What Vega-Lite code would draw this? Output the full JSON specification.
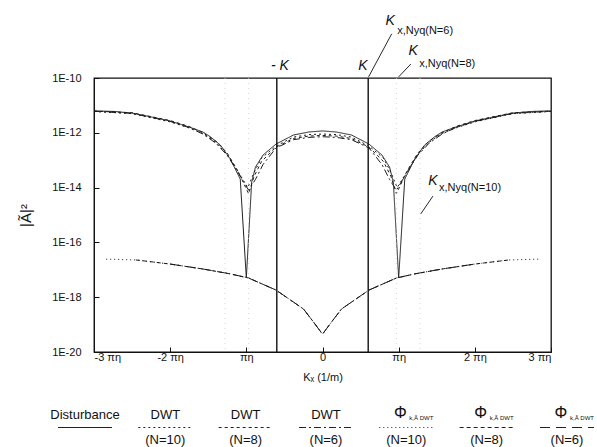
{
  "$schema": "https://vega.github.io/schema/vega-lite/v6.json",
  "padding": {"left": 17, "top": 13, "right": 0, "bottom": 0},
  "background": "white",
  "config": {"font": "Liberation Sans", "view": {"stroke": null}, "concat": {"spacing": 22}},
  "datasets": {
    "curves": [
      {"series": "Disturbance", "x": -3, "v": 6.31e-12},
      {"series": "Disturbance", "x": -2.75, "v": 6.03e-12},
      {"series": "Disturbance", "x": -2.5, "v": 5.25e-12},
      {"series": "Disturbance", "x": -2.25, "v": 3.80e-12},
      {"series": "Disturbance", "x": -2.0, "v": 2.69e-12},
      {"series": "Disturbance", "x": -1.75, "v": 1.62e-12},
      {"series": "Disturbance", "x": -1.57, "v": 1.07e-12},
      {"series": "Disturbance", "x": -1.47, "v": 7.08e-13},
      {"series": "Disturbance", "x": -1.34, "v": 3.55e-13},
      {"series": "Disturbance", "x": -1.21, "v": 1.10e-13},
      {"series": "Disturbance", "x": -1.08, "v": 2.04e-14},
      {"series": "Disturbance", "x": -1.0, "v": 5.01e-18},
      {"series": "Disturbance", "x": -0.93, "v": 1.58e-14},
      {"series": "Disturbance", "x": -0.88, "v": 5.62e-14},
      {"series": "Disturbance", "x": -0.78, "v": 1.55e-13},
      {"series": "Disturbance", "x": -0.61, "v": 3.89e-13},
      {"series": "Disturbance", "x": -0.38, "v": 8.32e-13},
      {"series": "Disturbance", "x": -0.18, "v": 1.07e-12},
      {"series": "Disturbance", "x": 0, "v": 1.17e-12},
      {"series": "Disturbance", "x": 0.18, "v": 1.07e-12},
      {"series": "Disturbance", "x": 0.38, "v": 8.32e-13},
      {"series": "Disturbance", "x": 0.61, "v": 3.89e-13},
      {"series": "Disturbance", "x": 0.78, "v": 1.55e-13},
      {"series": "Disturbance", "x": 0.88, "v": 5.62e-14},
      {"series": "Disturbance", "x": 0.93, "v": 1.58e-14},
      {"series": "Disturbance", "x": 1.0, "v": 5.01e-18},
      {"series": "Disturbance", "x": 1.08, "v": 2.04e-14},
      {"series": "Disturbance", "x": 1.21, "v": 1.10e-13},
      {"series": "Disturbance", "x": 1.34, "v": 3.55e-13},
      {"series": "Disturbance", "x": 1.47, "v": 7.08e-13},
      {"series": "Disturbance", "x": 1.57, "v": 1.07e-12},
      {"series": "Disturbance", "x": 1.75, "v": 1.62e-12},
      {"series": "Disturbance", "x": 2.0, "v": 2.69e-12},
      {"series": "Disturbance", "x": 2.25, "v": 3.80e-12},
      {"series": "Disturbance", "x": 2.5, "v": 5.25e-12},
      {"series": "Disturbance", "x": 2.75, "v": 6.03e-12},
      {"series": "Disturbance", "x": 3, "v": 6.31e-12},

      {"series": "DWT10", "x": -3, "v": 6.0e-12},
      {"series": "DWT10", "x": -2.5, "v": 5.0e-12},
      {"series": "DWT10", "x": -2.0, "v": 2.5e-12},
      {"series": "DWT10", "x": -1.75, "v": 1.5e-12},
      {"series": "DWT10", "x": -1.57, "v": 9.5e-13},
      {"series": "DWT10", "x": -1.4, "v": 4.5e-13},
      {"series": "DWT10", "x": -1.25, "v": 1.6e-13},
      {"series": "DWT10", "x": -1.1, "v": 3.5e-14},
      {"series": "DWT10", "x": -0.98, "v": 1.0e-14},
      {"series": "DWT10", "x": -0.9, "v": 3.5e-14},
      {"series": "DWT10", "x": -0.8, "v": 1.2e-13},
      {"series": "DWT10", "x": -0.61, "v": 3.3e-13},
      {"series": "DWT10", "x": -0.38, "v": 7.0e-13},
      {"series": "DWT10", "x": -0.18, "v": 8.6e-13},
      {"series": "DWT10", "x": 0, "v": 9.0e-13},
      {"series": "DWT10", "x": 0.18, "v": 8.6e-13},
      {"series": "DWT10", "x": 0.38, "v": 7.0e-13},
      {"series": "DWT10", "x": 0.61, "v": 3.3e-13},
      {"series": "DWT10", "x": 0.8, "v": 1.2e-13},
      {"series": "DWT10", "x": 0.9, "v": 3.5e-14},
      {"series": "DWT10", "x": 0.98, "v": 1.0e-14},
      {"series": "DWT10", "x": 1.1, "v": 3.5e-14},
      {"series": "DWT10", "x": 1.25, "v": 1.6e-13},
      {"series": "DWT10", "x": 1.4, "v": 4.5e-13},
      {"series": "DWT10", "x": 1.57, "v": 9.5e-13},
      {"series": "DWT10", "x": 1.75, "v": 1.5e-12},
      {"series": "DWT10", "x": 2.0, "v": 2.5e-12},
      {"series": "DWT10", "x": 2.5, "v": 5.0e-12},
      {"series": "DWT10", "x": 3, "v": 6.0e-12},

      {"series": "DWT8", "x": -3, "v": 6.2e-12},
      {"series": "DWT8", "x": -2.5, "v": 5.4e-12},
      {"series": "DWT8", "x": -2.0, "v": 2.8e-12},
      {"series": "DWT8", "x": -1.75, "v": 1.7e-12},
      {"series": "DWT8", "x": -1.57, "v": 1.0e-12},
      {"series": "DWT8", "x": -1.4, "v": 5.0e-13},
      {"series": "DWT8", "x": -1.25, "v": 1.8e-13},
      {"series": "DWT8", "x": -1.12, "v": 4.5e-14},
      {"series": "DWT8", "x": -0.97, "v": 6.0e-15},
      {"series": "DWT8", "x": -0.9, "v": 2.5e-14},
      {"series": "DWT8", "x": -0.8, "v": 9.0e-14},
      {"series": "DWT8", "x": -0.61, "v": 3.0e-13},
      {"series": "DWT8", "x": -0.38, "v": 6.2e-13},
      {"series": "DWT8", "x": -0.18, "v": 7.6e-13},
      {"series": "DWT8", "x": 0, "v": 8.0e-13},
      {"series": "DWT8", "x": 0.18, "v": 7.6e-13},
      {"series": "DWT8", "x": 0.38, "v": 6.2e-13},
      {"series": "DWT8", "x": 0.61, "v": 3.0e-13},
      {"series": "DWT8", "x": 0.8, "v": 9.0e-14},
      {"series": "DWT8", "x": 0.9, "v": 2.5e-14},
      {"series": "DWT8", "x": 0.97, "v": 6.0e-15},
      {"series": "DWT8", "x": 1.12, "v": 4.5e-14},
      {"series": "DWT8", "x": 1.25, "v": 1.8e-13},
      {"series": "DWT8", "x": 1.4, "v": 5.0e-13},
      {"series": "DWT8", "x": 1.57, "v": 1.0e-12},
      {"series": "DWT8", "x": 1.75, "v": 1.7e-12},
      {"series": "DWT8", "x": 2.0, "v": 2.8e-12},
      {"series": "DWT8", "x": 2.5, "v": 5.4e-12},
      {"series": "DWT8", "x": 3, "v": 6.2e-12},

      {"series": "DWT6", "x": -3, "v": 6.1e-12},
      {"series": "DWT6", "x": -2.5, "v": 5.1e-12},
      {"series": "DWT6", "x": -2.0, "v": 2.6e-12},
      {"series": "DWT6", "x": -1.75, "v": 1.55e-12},
      {"series": "DWT6", "x": -1.57, "v": 9.0e-13},
      {"series": "DWT6", "x": -1.4, "v": 4.2e-13},
      {"series": "DWT6", "x": -1.25, "v": 1.5e-13},
      {"series": "DWT6", "x": -1.12, "v": 4.0e-14},
      {"series": "DWT6", "x": -0.97, "v": 8.0e-15},
      {"series": "DWT6", "x": -0.88, "v": 2.0e-14},
      {"series": "DWT6", "x": -0.78, "v": 7.0e-14},
      {"series": "DWT6", "x": -0.61, "v": 2.8e-13},
      {"series": "DWT6", "x": -0.38, "v": 5.6e-13},
      {"series": "DWT6", "x": -0.18, "v": 6.8e-13},
      {"series": "DWT6", "x": 0, "v": 7.2e-13},
      {"series": "DWT6", "x": 0.18, "v": 6.8e-13},
      {"series": "DWT6", "x": 0.38, "v": 5.6e-13},
      {"series": "DWT6", "x": 0.61, "v": 2.8e-13},
      {"series": "DWT6", "x": 0.78, "v": 7.0e-14},
      {"series": "DWT6", "x": 0.88, "v": 2.0e-14},
      {"series": "DWT6", "x": 0.97, "v": 8.0e-15},
      {"series": "DWT6", "x": 1.12, "v": 4.0e-14},
      {"series": "DWT6", "x": 1.25, "v": 1.5e-13},
      {"series": "DWT6", "x": 1.4, "v": 4.2e-13},
      {"series": "DWT6", "x": 1.57, "v": 9.0e-13},
      {"series": "DWT6", "x": 1.75, "v": 1.55e-12},
      {"series": "DWT6", "x": 2.0, "v": 2.6e-12},
      {"series": "DWT6", "x": 2.5, "v": 5.1e-12},
      {"series": "DWT6", "x": 3, "v": 6.1e-12},

      {"series": "PHI10", "x": -2.84, "v": 2.45e-17},
      {"series": "PHI10", "x": -2.45, "v": 2.29e-17},
      {"series": "PHI10", "x": -2.0, "v": 1.62e-17},
      {"series": "PHI10", "x": -1.57, "v": 1.07e-17},
      {"series": "PHI10", "x": -1.21, "v": 7.08e-18},
      {"series": "PHI10", "x": -0.97, "v": 5.01e-18},
      {"series": "PHI10", "x": -0.61, "v": 1.82e-18},
      {"series": "PHI10", "x": -0.25, "v": 3.72e-19},
      {"series": "PHI10", "x": -0.12, "v": 1.26e-19},
      {"series": "PHI10", "x": 0, "v": 4.47e-20},
      {"series": "PHI10", "x": 0.12, "v": 1.26e-19},
      {"series": "PHI10", "x": 0.25, "v": 3.72e-19},
      {"series": "PHI10", "x": 0.61, "v": 1.82e-18},
      {"series": "PHI10", "x": 0.97, "v": 5.01e-18},
      {"series": "PHI10", "x": 1.21, "v": 7.08e-18},
      {"series": "PHI10", "x": 1.57, "v": 1.07e-17},
      {"series": "PHI10", "x": 2.0, "v": 1.62e-17},
      {"series": "PHI10", "x": 2.45, "v": 2.29e-17},
      {"series": "PHI10", "x": 2.84, "v": 2.45e-17},

      {"series": "PHI8", "x": -2.45, "v": 2.29e-17},
      {"series": "PHI8", "x": -2.0, "v": 1.62e-17},
      {"series": "PHI8", "x": -1.57, "v": 1.07e-17},
      {"series": "PHI8", "x": -1.21, "v": 7.08e-18},
      {"series": "PHI8", "x": -0.97, "v": 5.01e-18},
      {"series": "PHI8", "x": -0.61, "v": 1.82e-18},
      {"series": "PHI8", "x": -0.25, "v": 3.72e-19},
      {"series": "PHI8", "x": -0.12, "v": 1.26e-19},
      {"series": "PHI8", "x": 0, "v": 4.47e-20},
      {"series": "PHI8", "x": 0.12, "v": 1.26e-19},
      {"series": "PHI8", "x": 0.25, "v": 3.72e-19},
      {"series": "PHI8", "x": 0.61, "v": 1.82e-18},
      {"series": "PHI8", "x": 0.97, "v": 5.01e-18},
      {"series": "PHI8", "x": 1.21, "v": 7.08e-18},
      {"series": "PHI8", "x": 1.57, "v": 1.07e-17},
      {"series": "PHI8", "x": 2.0, "v": 1.62e-17},
      {"series": "PHI8", "x": 2.45, "v": 2.29e-17},

      {"series": "PHI6", "x": -2.0, "v": 1.62e-17},
      {"series": "PHI6", "x": -1.57, "v": 1.07e-17},
      {"series": "PHI6", "x": -1.21, "v": 7.08e-18},
      {"series": "PHI6", "x": -0.97, "v": 5.01e-18},
      {"series": "PHI6", "x": -0.61, "v": 1.82e-18},
      {"series": "PHI6", "x": -0.25, "v": 3.72e-19},
      {"series": "PHI6", "x": -0.12, "v": 1.26e-19},
      {"series": "PHI6", "x": 0, "v": 4.47e-20},
      {"series": "PHI6", "x": 0.12, "v": 1.26e-19},
      {"series": "PHI6", "x": 0.25, "v": 3.72e-19},
      {"series": "PHI6", "x": 0.61, "v": 1.82e-18},
      {"series": "PHI6", "x": 0.97, "v": 5.01e-18},
      {"series": "PHI6", "x": 1.21, "v": 7.08e-18},
      {"series": "PHI6", "x": 1.57, "v": 1.07e-17},
      {"series": "PHI6", "x": 2.0, "v": 1.62e-17}
    ],
    "klines": [{"x": -0.6}, {"x": 0.6}],
    "nyq": [{"x": -1.28}, {"x": -0.97}, {"x": 0.97}, {"x": 1.28}],
    "leaders": [
      {"x": 0.908, "v": 4.07e-9, "x2": 0.605, "v2": 1.1e-10},
      {"x": 1.16, "v": 3.24e-10, "x2": 1.0, "v2": 1.1e-10},
      {"x": 1.45, "v": 4.9e-15, "x2": 1.29, "v2": 1.1e-15}
    ],
    "bigk": [
      {"t": "- K", "x": -0.56, "v": 1.95e-10},
      {"t": "K", "x": 0.53, "v": 1.95e-10},
      {"t": "K", "x": 0.89, "v": 8.51e-9},
      {"t": "K", "x": 1.19, "v": 6.92e-10},
      {"t": "K", "x": 1.45, "v": 1.26e-14}
    ],
    "subs": [
      {"t": "x,Nyq(N=6)", "x": 0.98, "v": 4.07e-9},
      {"t": "x,Nyq(N=8)", "x": 1.27, "v": 2.51e-10},
      {"t": "x,Nyq(N=10)", "x": 1.53, "v": 7.59e-15}
    ],
    "legend": [
      {"slot": 0, "series": "Disturbance", "top": "Disturbance", "phi": "", "sub": "", "bottom": ""},
      {"slot": 1, "series": "DWT10", "top": "DWT", "phi": "", "sub": "", "bottom": "(N=10)"},
      {"slot": 2, "series": "DWT8", "top": "DWT", "phi": "", "sub": "", "bottom": "(N=8)"},
      {"slot": 3, "series": "DWT6", "top": "DWT", "phi": "", "sub": "", "bottom": "(N=6)"},
      {"slot": 4, "series": "PHI10", "top": "", "phi": "Φ", "sub": "k,Ã DWT", "bottom": "(N=10)"},
      {"slot": 5, "series": "PHI8", "top": "", "phi": "Φ", "sub": "k,Ã DWT", "bottom": "(N=8)"},
      {"slot": 6, "series": "PHI6", "top": "", "phi": "Φ", "sub": "k,Ã DWT", "bottom": "(N=6)"}
    ]
  },
  "vconcat": [
    {
      "width": 457,
      "height": 274,
      "view": {"stroke": "#111", "strokeWidth": 1.3},
      "layer": [
        {
          "data": {"name": "curves"},
          "mark": {"type": "line", "strokeWidth": 1, "color": "#1c1c1c", "clip": true},
          "encoding": {
            "x": {"field": "x", "type": "quantitative",
                  "scale": {"domain": [-3, 3], "nice": false, "zero": false},
                  "axis": {"values": [-3, -2, -1, 0, 1, 2, 3], "grid": false, "tickSize": -5, "tickColor": "#111",
                           "domainColor": "#111", "labelFontSize": 11, "labelColor": "#111", "labelPadding": 4,
                           "labelExpr": "datum.value == 0 ? '0' : (abs(datum.value) > 1 ? datum.value + ' ' : '') + 'πη'",
                           "title": "Kₓ (1/m)", "titleFontSize": 11, "titleFontWeight": "normal", "titleColor": "#111", "titlePadding": 9}},
            "y": {"field": "v", "type": "quantitative",
                  "scale": {"type": "log", "domain": [1e-20, 1e-10], "nice": false},
                  "axis": {"values": [1e-10, 1e-12, 1e-14, 1e-16, 1e-18, 1e-20], "grid": false, "tickSize": -5, "tickColor": "#111",
                           "domainColor": "#111", "labelFontSize": 11, "labelColor": "#111", "labelPadding": 18,
                           "labelExpr": "'1E-' + round(-log(datum.value) / LN10)",
                           "title": "|Ã|²", "titleFontSize": 15, "titleFontWeight": "normal", "titleColor": "#111", "titlePadding": 18}},
            "strokeDash": {"field": "series", "type": "nominal",
                           "scale": {"domain": ["Disturbance", "DWT10", "DWT8", "DWT6", "PHI10", "PHI8", "PHI6"],
                                     "range": [[1, 0], [2, 3], [3, 3], [7, 3, 2, 3], [1, 3], [4, 3], [10, 6]]},
                           "legend": null},
            "order": {"field": "x", "type": "quantitative"}
          }
        },
        {
          "data": {"name": "nyq"},
          "mark": {"type": "rule", "color": "#cccccc", "strokeWidth": 0.8, "strokeDash": [1, 4]},
          "encoding": {"x": {"field": "x", "type": "quantitative"}}
        },
        {
          "data": {"name": "klines"},
          "mark": {"type": "rule", "color": "#111", "strokeWidth": 1.4},
          "encoding": {"x": {"field": "x", "type": "quantitative"}}
        },
        {
          "data": {"name": "leaders"},
          "mark": {"type": "rule", "color": "#111", "strokeWidth": 0.9, "clip": false},
          "encoding": {
            "x": {"field": "x", "type": "quantitative"},
            "y": {"field": "v", "type": "quantitative"},
            "x2": {"field": "x2"},
            "y2": {"field": "v2"}
          }
        },
        {
          "data": {"name": "bigk"},
          "mark": {"type": "text", "fontSize": 14, "fontStyle": "italic", "align": "center", "baseline": "alphabetic", "color": "#111", "clip": false},
          "encoding": {
            "x": {"field": "x", "type": "quantitative"},
            "y": {"field": "v", "type": "quantitative"},
            "text": {"field": "t"}
          }
        },
        {
          "data": {"name": "subs"},
          "mark": {"type": "text", "fontSize": 11, "align": "left", "baseline": "alphabetic", "color": "#111", "clip": false},
          "encoding": {
            "x": {"field": "x", "type": "quantitative"},
            "y": {"field": "v", "type": "quantitative"},
            "text": {"field": "t"}
          }
        }
      ]
    },
    {
      "width": 457,
      "height": 25,
      "data": {"name": "legend"},
      "encoding": {
        "x": {"field": "slot", "type": "quantitative", "scale": {"domain": [0.112, 5.801], "nice": false, "zero": false}, "axis": null}
      },
      "layer": [
        {
          "mark": {"type": "text", "fontSize": 13, "baseline": "middle", "color": "#111"},
          "encoding": {
            "y": {"datum": "top", "type": "nominal", "scale": {"type": "point", "domain": ["top", "line", "bottom"], "padding": 0}, "axis": null},
            "text": {"field": "top"}
          }
        },
        {
          "mark": {"type": "text", "fontSize": 16, "baseline": "middle", "color": "#111", "dx": -6, "dy": -2},
          "encoding": {
            "y": {"datum": "top", "type": "nominal"},
            "text": {"field": "phi"}
          }
        },
        {
          "mark": {"type": "text", "fontSize": 6, "baseline": "middle", "align": "left", "color": "#111", "dx": 3, "dy": 3},
          "encoding": {
            "y": {"datum": "top", "type": "nominal"},
            "text": {"field": "sub"}
          }
        },
        {
          "mark": {"type": "rule", "xOffset": -27, "x2Offset": 27, "strokeWidth": 1, "color": "#222"},
          "encoding": {
            "x2": {"field": "slot"},
            "y": {"datum": "line", "type": "nominal"},
            "strokeDash": {"field": "series", "type": "nominal",
                           "scale": {"domain": ["Disturbance", "DWT10", "DWT8", "DWT6", "PHI10", "PHI8", "PHI6"],
                                     "range": [[1, 0], [2, 3], [3, 3], [7, 3, 2, 3], [1, 3], [4, 3], [10, 6]]},
                           "legend": null}
          }
        },
        {
          "mark": {"type": "text", "fontSize": 13, "baseline": "middle", "color": "#111"},
          "encoding": {
            "y": {"datum": "bottom", "type": "nominal"},
            "text": {"field": "bottom"}
          }
        }
      ]
    }
  ]
}
